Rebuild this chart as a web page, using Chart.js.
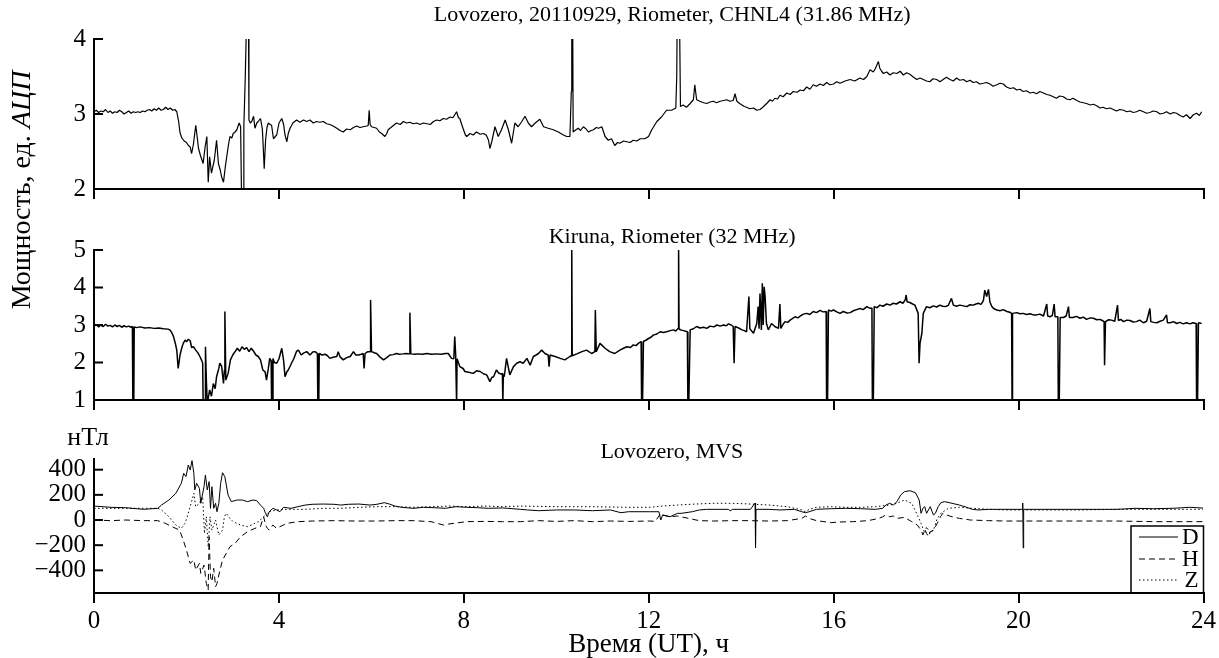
<!DOCTYPE html>
<html>
<head>
<meta charset="utf-8">
<script src="https://cdn.jsdelivr.net/npm/chart.js@4.4.1/dist/chart.umd.min.js"></script>
<style>
  html, body { margin: 0; padding: 0; background: #fff; }
  #wrap { position: relative; width: 1219px; height: 658px; }
  #wrap canvas { position: absolute; left: 0; top: 0; }
</style>
</head>
<body>
<div id="wrap">
  <canvas id="c1" width="1219" height="658"></canvas>
  <canvas id="c2" width="1219" height="658"></canvas>
  <canvas id="c3" width="1219" height="658"></canvas>
</div>
<script>
// time axis, hours UT
const hourTicks = [0, 4, 8, 12, 16, 20, 24];
const lovTicks = [2, 3, 4];
const kirTicks = [1, 2, 3, 4, 5];
const mvsTicks = [-400, -200, 0, 200, 400];

// Lovozero riometer, CHNL4 [hour, ADC units]
const lovozeroRio = [
  [0,3.03],[0.05,3.05],[0.1,3.02],[0.15,3.04],[0.2,3.03],[0.25,3.06],[0.3,3.02],[0.35,3.04],[0.4,3.01],[0.45,3.03],
  [0.5,3.02],[0.55,3.05],[0.6,3.03],[0.65,3.00],[0.7,3.02],[0.75,3.04],[0.8,3.01],[0.85,3.03],[0.9,3.02],[0.95,3.03],
  [1.0,3.02],[1.05,3.04],[1.1,3.03],[1.15,3.05],[1.2,3.06],[1.25,3.04],[1.3,3.07],[1.35,3.05],[1.4,3.08],[1.45,3.05],
  [1.5,3.06],[1.55,3.09],[1.6,3.06],[1.65,3.08],[1.7,3.05],[1.75,3.06],[1.79,3.03],[1.83,2.90],[1.86,2.75],[1.9,2.68],
  [1.95,2.64],[2.0,2.62],[2.04,2.58],[2.08,2.56],[2.11,2.47],[2.15,2.60],[2.2,2.85],[2.23,2.70],[2.26,2.54],[2.3,2.45],
  [2.36,2.34],[2.4,2.55],[2.44,2.70],[2.47,2.09],[2.5,2.43],[2.54,2.21],[2.57,2.30],[2.6,2.38],[2.65,2.65],[2.69,2.34],
  [2.73,2.25],[2.76,2.16],[2.8,2.09],[2.84,2.30],[2.87,2.43],[2.91,2.60],[2.94,2.70],[2.98,2.68],[3.01,2.74],[3.05,2.76],
  [3.09,2.79],[3.12,2.85],[3.14,2.88],[3.17,2.83],[3.19,1.9],[3.23,1.9],[3.24,2.83],[3.27,3.48],[3.30,4.3],[3.34,4.3],
  [3.35,2.92],[3.38,2.88],[3.41,2.90],[3.45,2.97],[3.48,2.81],[3.52,2.88],[3.55,2.90],[3.6,2.94],[3.64,2.80],[3.66,2.55],
  [3.68,2.27],[3.71,2.65],[3.74,2.82],[3.77,2.88],[3.81,2.86],[3.84,2.85],[3.88,2.67],[3.92,2.70],[3.95,2.72],[4.0,2.88],
  [4.04,2.92],[4.06,2.94],[4.1,2.86],[4.13,2.72],[4.17,2.63],[4.2,2.74],[4.24,2.81],[4.3,2.88],[4.38,2.92],[4.45,2.89],
  [4.53,2.92],[4.6,2.90],[4.67,2.92],[4.74,2.88],[4.81,2.90],[4.88,2.89],[4.96,2.90],[5.03,2.87],[5.1,2.86],[5.17,2.84],
  [5.25,2.81],[5.32,2.78],[5.39,2.76],[5.46,2.80],[5.54,2.79],[5.61,2.82],[5.68,2.84],[5.75,2.82],[5.82,2.83],[5.9,2.84],
  [5.93,2.85],[5.95,3.05],[5.97,2.86],[6.0,2.83],[6.06,2.82],[6.11,2.81],[6.17,2.76],[6.22,2.74],[6.29,2.70],[6.33,2.74],
  [6.36,2.79],[6.44,2.83],[6.5,2.86],[6.54,2.88],[6.62,2.86],[6.69,2.90],[6.76,2.88],[6.83,2.89],[6.9,2.87],[6.98,2.88],
  [7.05,2.86],[7.12,2.88],[7.2,2.87],[7.27,2.86],[7.34,2.90],[7.41,2.92],[7.48,2.91],[7.55,2.94],[7.62,2.93],[7.7,2.96],
  [7.76,2.95],[7.8,2.99],[7.84,3.03],[7.88,2.95],[7.91,2.94],[7.95,2.86],[7.99,2.79],[8.03,2.72],[8.06,2.70],[8.13,2.74],
  [8.2,2.72],[8.27,2.76],[8.35,2.73],[8.42,2.74],[8.48,2.72],[8.53,2.65],[8.56,2.54],[8.6,2.63],[8.67,2.83],[8.74,2.70],
  [8.81,2.79],[8.89,2.92],[8.96,2.79],[9.03,2.61],[9.1,2.88],[9.17,2.83],[9.25,2.90],[9.32,2.97],[9.39,2.88],[9.46,2.83],
  [9.54,2.88],[9.64,2.93],[9.72,2.83],[9.82,2.81],[9.93,2.79],[10.04,2.76],[10.15,2.72],[10.22,2.70],[10.29,2.70],[10.32,3.3],
  [10.33,4.3],[10.35,4.3],[10.36,2.76],[10.42,2.79],[10.47,2.81],[10.52,2.78],[10.58,2.83],[10.64,2.80],[10.69,2.76],[10.75,2.78],
  [10.8,2.79],[10.86,2.82],[10.91,2.81],[10.98,2.83],[11.05,2.70],[11.12,2.65],[11.19,2.67],[11.26,2.58],[11.32,2.62],[11.37,2.61],
  [11.45,2.64],[11.52,2.63],[11.59,2.62],[11.66,2.65],[11.74,2.64],[11.81,2.67],[11.91,2.67],[11.99,2.70],[12.06,2.79],[12.17,2.90],
  [12.27,2.96],[12.38,3.05],[12.49,3.05],[12.58,3.08],[12.60,3.50],[12.61,4.3],[12.66,4.3],[12.68,3.10],[12.74,3.12],[12.81,3.09],
  [12.89,3.14],[12.96,3.19],[12.99,3.39],[13.03,3.19],[13.10,3.17],[13.18,3.15],[13.25,3.14],[13.32,3.16],[13.39,3.17],[13.46,3.15],
  [13.54,3.17],[13.61,3.18],[13.68,3.19],[13.75,3.17],[13.82,3.18],[13.86,3.27],[13.88,3.27],[13.90,3.17],[13.96,3.14],[14.01,3.12],
  [14.06,3.10],[14.11,3.09],[14.18,3.07],[14.26,3.08],[14.33,3.05],[14.40,3.06],[14.46,3.09],[14.51,3.12],[14.56,3.15],[14.62,3.19],
  [14.67,3.17],[14.72,3.21],[14.78,3.20],[14.83,3.25],[14.90,3.23],[14.98,3.28],[15.05,3.26],[15.12,3.30],[15.2,3.29],[15.27,3.32],
  [15.34,3.31],[15.41,3.36],[15.48,3.33],[15.55,3.39],[15.62,3.37],[15.70,3.40],[15.77,3.38],[15.84,3.42],[15.91,3.39],[15.99,3.40],
  [16.06,3.43],[16.13,3.41],[16.24,3.44],[16.35,3.46],[16.45,3.44],[16.56,3.48],[16.64,3.46],[16.71,3.50],[16.78,3.59],[16.85,3.56],
  [16.89,3.60],[16.96,3.70],[16.99,3.61],[17.03,3.57],[17.07,3.54],[17.14,3.56],[17.21,3.52],[17.28,3.55],[17.36,3.54],[17.43,3.57],
  [17.50,3.52],[17.57,3.55],[17.64,3.53],[17.72,3.49],[17.79,3.46],[17.86,3.48],[17.93,3.46],[18.0,3.44],[18.07,3.43],[18.14,3.47],
  [18.22,3.46],[18.29,3.43],[18.36,3.46],[18.43,3.49],[18.51,3.46],[18.58,3.44],[18.65,3.48],[18.72,3.45],[18.80,3.46],[18.87,3.43],
  [18.94,3.45],[19.01,3.42],[19.08,3.43],[19.15,3.40],[19.23,3.41],[19.30,3.42],[19.37,3.40],[19.44,3.37],[19.52,3.39],[19.59,3.41],
  [19.66,3.40],[19.73,3.36],[19.81,3.34],[19.88,3.35],[19.95,3.32],[20.02,3.33],[20.09,3.30],[20.16,3.31],[20.24,3.28],[20.31,3.29],
  [20.38,3.27],[20.45,3.30],[20.53,3.28],[20.60,3.26],[20.67,3.25],[20.74,3.23],[20.81,3.21],[20.88,3.24],[20.96,3.23],[21.03,3.20],
  [21.10,3.19],[21.17,3.21],[21.25,3.18],[21.32,3.16],[21.39,3.15],[21.46,3.14],[21.54,3.12],[21.61,3.13],[21.68,3.11],[21.75,3.08],
  [21.82,3.09],[21.89,3.07],[21.97,3.08],[22.04,3.06],[22.11,3.04],[22.18,3.06],[22.26,3.05],[22.33,3.03],[22.40,3.04],[22.47,3.02],
  [22.54,3.03],[22.61,3.05],[22.69,3.03],[22.76,3.01],[22.83,3.02],[22.9,3.04],[22.98,3.03],[23.05,3.00],[23.12,3.01],[23.19,3.03],
  [23.27,3.00],[23.34,3.02],[23.41,3.01],[23.48,2.98],[23.55,2.96],[23.62,2.99],[23.70,2.94],[23.77,2.99],[23.84,3.01],[23.9,2.98],
  [23.95,3.03]
];

// Kiruna riometer, 32 MHz [hour, ADC units]
const kirunaRio = [
  [0,2.97],[0.05,3.01],[0.1,2.95],[0.15,3.00],[0.2,2.96],[0.25,3.02],[0.3,2.97],[0.35,2.99],[0.4,2.95],[0.45,3.00],
  [0.5,2.96],[0.55,2.99],[0.6,2.94],[0.65,2.98],[0.7,2.95],[0.75,2.97],[0.8,2.94],[0.83,2.96],[0.84,0.9],[0.86,0.9],
  [0.87,2.95],[0.92,2.93],[1.0,2.95],[1.1,2.92],[1.2,2.93],[1.3,2.91],[1.4,2.92],[1.5,2.90],[1.6,2.89],[1.64,2.87],
  [1.68,2.80],[1.72,2.69],[1.76,2.50],[1.79,2.33],[1.82,1.84],[1.86,2.20],[1.9,2.40],[1.93,2.51],[1.97,2.60],[2.0,2.55],
  [2.04,2.62],[2.08,2.58],[2.11,2.40],[2.15,2.42],[2.2,2.33],[2.25,2.25],[2.29,2.16],[2.33,2.05],[2.35,1.98],[2.36,0.9],
  [2.40,0.9],[2.41,2.42],[2.43,1.5],[2.45,0.9],[2.5,1.27],[2.54,1.10],[2.58,1.44],[2.62,1.30],[2.65,1.62],[2.7,1.85],
  [2.72,1.98],[2.76,1.90],[2.8,1.44],[2.82,1.80],[2.83,3.36],[2.85,1.53],[2.9,1.71],[2.95,2.07],[3.0,2.20],[3.05,2.29],
  [3.1,2.38],[3.15,2.30],[3.2,2.42],[3.25,2.35],[3.3,2.40],[3.35,2.29],[3.4,2.38],[3.45,2.30],[3.5,2.20],[3.55,2.16],
  [3.6,2.07],[3.65,1.80],[3.7,1.75],[3.73,1.53],[3.77,1.85],[3.80,2.11],[3.83,2.05],[3.84,0.9],[3.86,0.9],[3.87,2.11],
  [3.9,2.00],[3.95,1.98],[4.0,2.10],[4.06,2.38],[4.1,2.05],[4.13,1.62],[4.17,1.75],[4.2,1.80],[4.24,1.90],[4.27,1.98],
  [4.32,2.10],[4.38,2.30],[4.42,2.33],[4.48,2.20],[4.53,2.25],[4.6,2.29],[4.67,2.20],[4.73,2.28],[4.78,2.29],[4.83,2.24],
  [4.84,0.9],[4.86,0.9],[4.87,2.24],[4.93,2.20],[5.0,2.22],[5.05,2.18],[5.1,2.11],[5.17,2.14],[5.25,2.16],[5.28,2.29],
  [5.32,2.15],[5.39,2.07],[5.46,2.13],[5.54,2.16],[5.61,2.29],[5.66,2.20],[5.72,2.20],[5.78,2.22],[5.82,2.24],[5.84,1.84],
  [5.86,2.24],[5.92,2.29],[5.97,2.29],[5.98,3.67],[6.00,2.29],[6.06,2.26],[6.11,2.24],[6.18,2.15],[6.26,2.07],[6.33,2.13],
  [6.40,2.20],[6.47,2.21],[6.54,2.24],[6.6,2.22],[6.68,2.23],[6.75,2.24],[6.82,2.23],[6.83,3.33],[6.85,2.23],[6.93,2.22],
  [7.0,2.23],[7.1,2.22],[7.2,2.24],[7.3,2.22],[7.41,2.23],[7.5,2.22],[7.6,2.24],[7.66,2.24],[7.73,2.11],[7.78,2.10],
  [7.8,2.69],[7.82,2.20],[7.84,0.9],[7.85,2.10],[7.91,1.89],[7.98,1.84],[8.02,1.76],[8.1,1.74],[8.2,1.71],[8.27,1.78],
  [8.35,1.76],[8.42,1.70],[8.49,1.67],[8.56,1.49],[8.6,1.60],[8.64,1.62],[8.7,1.80],[8.75,1.72],[8.8,1.69],[8.83,1.71],
  [8.84,0.9],[8.85,1.67],[8.87,1.62],[8.92,2.11],[8.99,1.67],[9.07,1.89],[9.14,1.98],[9.21,2.02],[9.28,1.98],[9.36,2.11],
  [9.43,1.93],[9.5,2.16],[9.56,2.20],[9.61,2.24],[9.68,2.33],[9.75,2.24],[9.82,2.20],[9.84,1.89],[9.86,2.20],[9.97,2.16],
  [10.08,2.11],[10.18,2.07],[10.29,2.16],[10.32,2.18],[10.33,5.1],[10.34,2.18],[10.44,2.23],[10.55,2.29],[10.65,2.33],[10.76,2.24],
  [10.83,2.29],[10.84,3.40],[10.86,2.29],[10.94,2.51],[11.05,2.38],[11.15,2.29],[11.26,2.24],[11.37,2.33],[11.45,2.38],[11.52,2.42],
  [11.6,2.40],[11.66,2.47],[11.72,2.45],[11.77,2.51],[11.83,2.56],[11.84,0.9],[11.86,0.9],[11.88,2.56],[11.94,2.60],[11.99,2.64],
  [12.05,2.68],[12.09,2.73],[12.17,2.76],[12.24,2.82],[12.31,2.80],[12.38,2.82],[12.46,2.85],[12.53,2.87],[12.58,2.84],[12.63,2.91],
  [12.64,5.1],[12.65,2.90],[12.67,2.87],[12.75,2.85],[12.83,2.82],[12.84,0.9],[12.86,0.9],[12.89,2.87],[12.96,2.90],[13.03,2.96],
  [13.1,2.92],[13.18,2.94],[13.25,2.91],[13.32,2.97],[13.4,2.95],[13.47,3.00],[13.54,2.97],[13.61,3.00],[13.67,2.98],[13.72,3.03],
  [13.78,3.00],[13.82,2.96],[13.84,1.98],[13.86,2.96],[13.94,2.92],[14.01,2.87],[14.06,2.85],[14.11,2.82],[14.16,3.76],[14.18,2.90],
  [14.22,2.84],[14.26,2.78],[14.33,3.04],[14.36,3.49],[14.38,2.90],[14.40,3.84],[14.43,2.87],[14.45,4.11],[14.47,3.00],[14.49,4.02],
  [14.51,3.76],[14.54,3.04],[14.58,2.87],[14.65,3.04],[14.72,2.96],[14.80,2.91],[14.83,3.56],[14.85,2.91],[14.9,3.02],[14.94,3.09],
  [15.0,3.07],[15.05,3.13],[15.1,3.17],[15.16,3.22],[15.22,3.19],[15.27,3.24],[15.34,3.29],[15.41,3.31],[15.48,3.28],[15.55,3.36],
  [15.62,3.33],[15.70,3.39],[15.76,3.35],[15.83,3.36],[15.84,0.9],[15.86,0.9],[15.88,3.40],[15.94,3.37],[15.99,3.40],[16.06,3.35],
  [16.13,3.31],[16.2,3.36],[16.28,3.32],[16.35,3.33],[16.42,3.38],[16.49,3.41],[16.56,3.44],[16.63,3.41],[16.71,3.49],[16.77,3.45],
  [16.82,3.45],[16.83,0.9],[16.85,0.9],[16.87,3.49],[16.93,3.46],[16.99,3.53],[17.06,3.50],[17.14,3.56],[17.21,3.53],[17.28,3.58],
  [17.35,3.56],[17.43,3.62],[17.49,3.58],[17.54,3.67],[17.56,3.80],[17.58,3.62],[17.64,3.60],[17.7,3.56],[17.75,3.53],[17.82,3.31],
  [17.84,1.98],[17.86,2.51],[17.90,2.78],[17.93,3.31],[18.00,3.49],[18.07,3.46],[18.15,3.51],[18.22,3.48],[18.29,3.53],[18.35,3.50],
  [18.40,3.49],[18.47,3.52],[18.54,3.71],[18.58,3.53],[18.65,3.50],[18.72,3.53],[18.8,3.51],[18.87,3.49],[18.94,3.54],[19.01,3.53],
  [19.07,3.56],[19.12,3.58],[19.18,3.55],[19.23,3.65],[19.26,3.93],[19.30,3.76],[19.34,3.95],[19.37,3.62],[19.41,3.50],[19.45,3.44],
  [19.52,3.40],[19.59,3.38],[19.66,3.41],[19.74,3.36],[19.80,3.34],[19.84,3.31],[19.85,0.9],[19.86,3.31],[19.95,3.33],[20.02,3.30],
  [20.09,3.31],[20.16,3.28],[20.24,3.30],[20.31,3.27],[20.38,3.27],[20.45,3.29],[20.53,3.24],[20.60,3.56],[20.62,3.24],[20.67,3.22],
  [20.72,3.25],[20.76,3.56],[20.78,3.22],[20.84,3.22],[20.85,0.9],[20.87,0.9],[20.89,3.20],[20.96,3.20],[21.02,3.24],[21.07,3.49],
  [21.09,3.20],[21.17,3.20],[21.24,3.23],[21.32,3.18],[21.39,3.21],[21.46,3.15],[21.54,3.19],[21.61,3.18],[21.68,3.14],[21.75,3.15],
  [21.8,3.12],[21.84,3.09],[21.85,1.93],[21.87,3.09],[21.94,3.14],[22.00,3.13],[22.07,3.10],[22.13,3.53],[22.15,3.12],[22.2,3.15],
  [22.26,3.09],[22.33,3.13],[22.40,3.12],[22.47,3.08],[22.54,3.09],[22.61,3.13],[22.69,3.06],[22.76,3.10],[22.83,3.44],[22.85,3.09],
  [22.91,3.07],[22.98,3.06],[23.05,3.10],[23.12,3.13],[23.19,3.27],[23.21,3.06],[23.27,3.06],[23.34,3.09],[23.41,3.04],[23.48,3.07],
  [23.55,3.03],[23.62,3.06],[23.70,3.03],[23.76,3.06],[23.83,3.04],[23.84,0.9],[23.86,0.9],[23.88,3.06],[23.95,3.04]
];

// Lovozero MVS magnetometer [hour, nT]
const mvsD = [
  [0,111],[0.37,101],[0.68,98],[1.07,85],[1.38,93],[1.46,119],[1.62,159],[1.77,212],[1.89,292],[1.94,371],
  [1.99,345],[2.04,437],[2.08,398],[2.12,472],[2.16,371],[2.18,239],[2.22,292],[2.28,252],[2.31,133],[2.38,265],
  [2.41,358],[2.45,239],[2.49,305],[2.52,93],[2.55,265],[2.59,93],[2.63,133],[2.66,66],[2.70,133],[2.74,292],
  [2.78,376],[2.83,345],[2.90,199],[2.97,146],[3.09,159],[3.21,159],[3.32,146],[3.44,159],[3.52,154],[3.60,119],
  [3.67,93],[3.71,53],[3.75,26],[3.79,66],[3.87,93],[3.95,80],[4.02,66],[4.10,101],[4.26,93],[4.41,106],
  [4.57,119],[4.72,125],[4.96,127],[5.19,125],[5.34,119],[5.50,125],[5.73,127],[5.97,119],[6.12,125],[6.28,138],
  [6.39,127],[6.51,111],[6.66,101],[6.90,93],[7.13,101],[7.36,98],[7.60,93],[7.83,106],[8.06,101],[8.30,98],
  [8.53,93],[8.84,96],[9.23,85],[9.38,80],[9.62,74],[10.00,80],[10.39,80],[10.78,74],[11.17,80],[11.40,58],
  [11.56,66],[11.79,66],[12.02,66],[12.22,66],[12.26,0],[12.30,40],[12.46,26],[12.62,53],[12.70,53],[12.94,66],
  [13.09,80],[13.25,85],[13.41,85],[13.73,85],[13.76,72],[13.81,85],[14.20,85],[14.30,135],[14.31,-222],[14.32,85],
  [14.60,85],[14.84,80],[15.15,85],[15.31,66],[15.39,58],[15.47,66],[15.63,85],[15.95,90],[16.26,93],[16.58,90],
  [16.90,85],[17.06,93],[17.13,119],[17.21,133],[17.29,119],[17.37,146],[17.45,199],[17.53,225],[17.65,233],[17.77,217],
  [17.85,159],[17.89,53],[17.93,93],[17.97,106],[18.01,53],[18.05,80],[18.09,106],[18.13,66],[18.16,40],[18.20,53],
  [18.26,106],[18.32,138],[18.40,146],[18.56,133],[18.72,119],[18.88,101],[19.00,85],[19.12,80],[19.35,85],[19.75,85],
  [20.08,85],[20.09,135],[20.10,-222],[20.11,85],[20.54,85],[20.94,85],[21.33,85],[22.13,85],[22.52,93],[22.92,90],
  [23.32,93],[23.71,101],[23.99,95]
];
const mvsH = [
  [0,0],[0.37,-5],[0.68,0],[1.07,-5],[1.38,-5],[1.54,-26],[1.69,-53],[1.85,-80],[1.93,-159],[2.00,-239],
  [2.04,-292],[2.08,-345],[2.16,-318],[2.20,-398],[2.28,-345],[2.31,-424],[2.38,-358],[2.43,-504],[2.47,-557],[2.49,-133],
  [2.52,-451],[2.55,-490],[2.59,-384],[2.63,-530],[2.66,-504],[2.70,-437],[2.78,-318],[2.86,-265],[2.94,-212],[3.05,-186],
  [3.17,-133],[3.32,-93],[3.48,-66],[3.60,-53],[3.67,26],[3.71,-40],[3.75,-66],[3.79,-80],[3.87,-40],[3.95,-66],
  [4.02,-53],[4.18,-26],[4.41,-13],[4.72,-8],[5.19,-5],[5.65,-8],[6.12,-8],[6.51,-5],[6.90,-5],[7.29,-13],
  [7.56,-40],[7.67,-32],[8.06,-13],[8.45,-11],[8.84,-13],[9.23,-13],[9.62,-5],[10.00,-11],[10.39,-5],[10.78,-13],
  [11.17,-8],[11.56,-11],[12.02,-8],[12.14,-11],[12.26,53],[12.30,40],[12.46,26],[12.62,32],[12.86,13],[13.09,-5],
  [13.41,-8],[13.81,-5],[14.20,-5],[14.60,-8],[15.00,-5],[15.31,13],[15.39,32],[15.47,13],[15.63,-5],[15.79,-13],
  [15.95,-21],[16.10,-16],[16.42,-13],[16.74,-5],[16.98,13],[17.06,26],[17.13,40],[17.21,26],[17.29,32],[17.37,13],
  [17.53,21],[17.69,-13],[17.81,-40],[17.89,-80],[17.93,-119],[17.97,-74],[18.01,-106],[18.05,-132],[18.09,-93],[18.16,-80],
  [18.24,-26],[18.31,26],[18.36,53],[18.44,40],[18.56,26],[18.72,13],[18.96,0],[19.35,-5],[19.75,-8],[20.54,-8],
  [21.33,-8],[22.13,-8],[22.92,-13],[23.32,-13],[23.99,-13]
];
const mvsZ = [
  [0,93],[0.68,93],[1.07,93],[1.38,93],[1.46,80],[1.62,26],[1.77,-40],[1.89,-66],[1.97,-26],[2.04,53],
  [2.12,159],[2.16,212],[2.20,106],[2.28,133],[2.35,186],[2.39,-106],[2.43,26],[2.47,-212],[2.51,26],[2.55,-80],
  [2.63,0],[2.70,-119],[2.78,-80],[2.82,26],[2.86,53],[2.94,13],[3.01,-13],[3.17,-40],[3.32,-53],[3.48,-26],
  [3.56,-13],[3.63,13],[3.71,40],[3.79,66],[3.95,80],[4.18,85],[4.57,85],[4.96,93],[5.34,93],[5.73,101],
  [6.12,106],[6.51,106],[6.90,101],[7.29,106],[7.67,111],[8.06,106],[8.45,111],[8.84,106],[9.23,111],[10.00,106],
  [10.78,106],[11.56,101],[12.02,101],[12.30,111],[12.62,119],[13.01,127],[13.41,133],[13.81,133],[14.20,127],[14.60,119],
  [15.00,106],[15.31,80],[15.39,66],[15.47,85],[15.63,101],[15.95,106],[16.26,101],[16.58,101],[16.90,106],[17.21,119],
  [17.37,133],[17.53,159],[17.69,133],[17.81,40],[17.89,-26],[17.97,-106],[18.01,-53],[18.09,-106],[18.16,-80],[18.24,13],
  [18.32,53],[18.48,93],[18.72,101],[19.00,93],[19.35,85],[19.75,80],[20.54,80],[21.33,80],[22.13,85],[22.92,85],
  [23.99,85]
];

const SERIF = '"Liberation Serif", "Times New Roman", serif';
Chart.defaults.font.family = SERIF;
Chart.defaults.color = '#000';

function pts(arr) {
  return arr.map(([x, y]) => ({ x, y }));
}

// title, inside y ticks and other text for one panel
function decor(opts) {
  return {
    id: 'decor',
    afterDraw(chart) {
      const ctx = chart.ctx;
      const xs = chart.scales.x, ys = chart.scales.y;
      ctx.save();
      ctx.strokeStyle = '#000';
      ctx.lineWidth = 2;
      opts.yTicks.forEach(v => {
        const py = ys.getPixelForValue(v);
        ctx.beginPath();
        ctx.moveTo(xs.left, py);
        ctx.lineTo(xs.left + 9, py);
        ctx.stroke();
      });
      ctx.fillStyle = '#000';
      ctx.textAlign = 'center';
      ctx.textBaseline = 'middle';
      ctx.font = '22px ' + SERIF;
      ctx.fillText(opts.title, xs.getPixelForValue(12.5), opts.titleY);
      if (opts.extra) opts.extra(ctx, xs, ys);
      ctx.restore();
    }
  };
}

function makeChart(id, datasets, yCfg, lay, showX, plugin) {
  return new Chart(document.getElementById(id), {
    type: 'line',
    data: { datasets },
    options: {
      responsive: false,
      animation: false,
      events: [],
      layout: { padding: { left: 0, right: 15, top: lay.top, bottom: lay.bottom } },
      plugins: { legend: { display: false }, tooltip: { enabled: false } },
      elements: { point: { radius: 0 }, line: { borderJoinStyle: 'bevel', tension: 0 } },
      scales: {
        x: {
          type: 'linear', min: 0, max: 24,
          afterBuildTicks: s => { s.ticks = hourTicks.map(v => ({ value: v })); },
          afterFit: s => { s.height = lay.xHeight; },
          ticks: { display: showX, autoSkip: false, maxRotation: 0, padding: 3, font: { size: 25 }, color: '#000' },
          grid: { drawOnChartArea: false, drawTicks: true, tickLength: 10, color: '#000', lineWidth: 2 },
          border: { display: true, color: '#000', width: 2 }
        },
        y: {
          type: 'linear', min: yCfg.min, max: yCfg.max,
          afterBuildTicks: s => { s.ticks = yCfg.ticks.map(v => ({ value: v })); },
          afterFit: s => { s.width = 94; },
          ticks: {
            autoSkip: false, padding: 8, color: '#000',
            font: { size: 25, lineHeight: 1 },
            callback: v => String(v).replace('-', '\u2212')
          },
          grid: { display: false, drawTicks: false },
          border: { display: true, color: '#000', width: 2 }
        }
      }
    },
    plugins: [plugin]
  });
}

// panel 1: Lovozero riometer (also carries the shared y title)
makeChart('c1',
  [{ data: pts(lovozeroRio), borderColor: '#000', borderWidth: 1.2 }],
  { min: 2, max: 4, ticks: lovTicks },
  { top: 39, bottom: 457, xHeight: 12 }, false,
  decor({
    yTicks: lovTicks, title: 'Lovozero, 20110929, Riometer, CHNL4 (31.86 MHz)', titleY: 15,
    extra(ctx) {
      ctx.save();
      ctx.translate(23, 190);
      ctx.rotate(-Math.PI / 2);
      const a = 'Мощность, ед. ', b = 'АЦП';
      ctx.font = '28px ' + SERIF;
      const wa = ctx.measureText(a).width;
      ctx.font = 'italic 28px ' + SERIF;
      const wb = ctx.measureText(b).width;
      ctx.textAlign = 'left';
      ctx.font = '28px ' + SERIF;
      ctx.fillText(a, -(wa + wb) / 2, 0);
      ctx.font = 'italic 28px ' + SERIF;
      ctx.fillText(b, -(wa + wb) / 2 + wa, 0);
      ctx.restore();
    }
  })
);

// panel 2: Kiruna riometer
makeChart('c2',
  [{ data: pts(kirunaRio), borderColor: '#000', borderWidth: 1.5 }],
  { min: 1, max: 5, ticks: kirTicks },
  { top: 250, bottom: 246, xHeight: 12 }, false,
  decor({ yTicks: kirTicks, title: 'Kiruna, Riometer (32 MHz)', titleY: 237 })
);

// panel 3: magnetometer components
const mvsStyles = [
  { label: 'D', data: mvsD, dash: [] },
  { label: 'H', data: mvsH, dash: [6, 4] },
  { label: 'Z', data: mvsZ, dash: [1.5, 2.5] }
];
makeChart('c3',
  mvsStyles.map(s => ({ label: s.label, data: pts(s.data), borderColor: '#000', borderWidth: 1, borderDash: s.dash })),
  { min: -580, max: 485, ticks: mvsTicks },
  { top: 459, bottom: 0, xHeight: 65 }, true,
  decor({
    yTicks: mvsTicks, title: 'Lovozero, MVS', titleY: 452,
    extra(ctx, xs, ys) {
      ctx.font = '27px ' + SERIF;
      ctx.fillText('Время (UT), ч', xs.getPixelForValue(12), 645);
      ctx.font = '26px ' + SERIF;
      ctx.fillText('нТл', 88, 438);
      // legend box
      const bx = 1131, by = 526;
      ctx.lineWidth = 1.5;
      ctx.strokeRect(bx, by, xs.right - bx, ys.bottom - by);
      ctx.font = '23px ' + SERIF;
      ctx.textAlign = 'right';
      const rows = [537, 559, 580];
      mvsStyles.forEach((s, i) => {
        ctx.lineWidth = 1;
        ctx.setLineDash(s.dash);
        ctx.beginPath();
        ctx.moveTo(bx + 8, rows[i]);
        ctx.lineTo(bx + 47, rows[i]);
        ctx.stroke();
        ctx.setLineDash([]);
        ctx.fillText(s.label, xs.right - 5, rows[i] + 1);
      });
    }
  })
);
</script>
</body>
</html>
